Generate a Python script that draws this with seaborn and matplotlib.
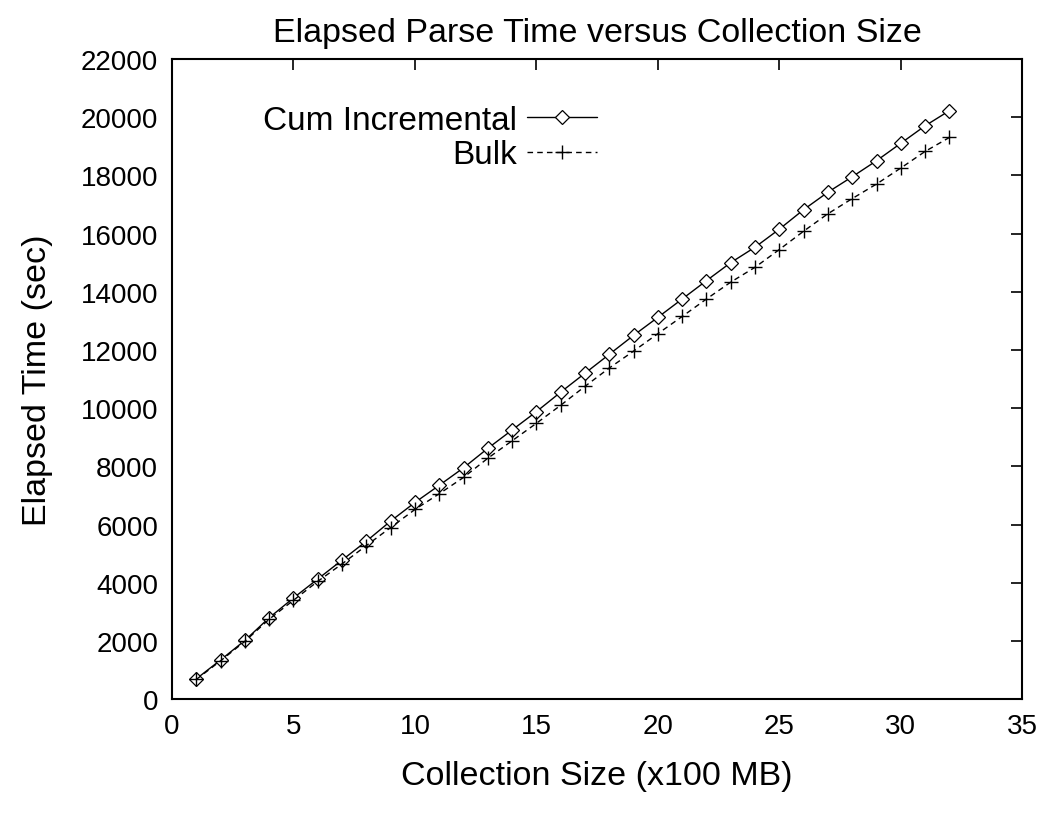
import matplotlib
matplotlib.use('Agg')
import matplotlib.pyplot as plt
import pandas as pd
import seaborn as sns

# collection size in units of 100 MB
sizes = list(range(1, 33))

cum_incremental = [700, 1350, 2020, 2800, 3480, 4130, 4780, 5430, 6120, 6760,
                   7350, 7950, 8620, 9250, 9880, 10550, 11200, 11850, 12500, 13120,
                   13750, 14380, 15000, 15530, 16150, 16820, 17420, 17950, 18500, 19100,
                   19700, 20220]

bulk = [680, 1320, 1990, 2750, 3400, 4050, 4650, 5280, 5900, 6520,
        7060, 7620, 8280, 8880, 9480, 10100, 10750, 11380, 11960, 12560,
        13150, 13750, 14330, 14840, 15450, 16080, 16680, 17200, 17700, 18250,
        18820, 19300]

y_ticks = list(range(0, 22001, 2000))
x_ticks = list(range(0, 36, 5))

sns.set_style('white')
plt.rcParams['font.family'] = ['Liberation Sans', 'DejaVu Sans']
plt.rcParams['text.color'] = 'black'
plt.rcParams['axes.labelcolor'] = 'black'
plt.rcParams['xtick.color'] = 'black'
plt.rcParams['ytick.color'] = 'black'

df_inc = pd.DataFrame({'size': sizes, 'time': cum_incremental})
df_bulk = pd.DataFrame({'size': sizes, 'time': bulk})

fig = plt.figure(figsize=(10.55, 8.2), dpi=100)
ax = fig.add_axes([0.163, 0.146, 0.806, 0.781])

sns.lineplot(data=df_inc, x='size', y='time', ax=ax, color='black', lw=1,
             marker='D', markersize=7, mfc='white', mec='black', mew=0.9,
             label='Cum Incremental')
sns.lineplot(data=df_bulk, x='size', y='time', ax=ax, color='black', lw=1,
             marker='+', markersize=10, mec='black', mew=1.0, label='Bulk')
ax.lines[1].set_dashes([4, 3])
ax.lines[0].set_markerfacecolor('white')

ax.set_xlim(0, 35)
ax.set_ylim(0, 22000)
ax.set_xticks(x_ticks)
ax.set_yticks(y_ticks)
ax.tick_params(direction='in', length=8, width=1.2, top=True, right=True,
               labelsize=20, pad=10)
for s in ax.spines.values():
    s.set_linewidth(1.5)
    s.set_color('black')

ax.set_title('Elapsed Parse Time versus Collection Size', fontsize=24.5, pad=13)
ax.set_xlabel('Collection Size (x100 MB)', fontsize=24.5, labelpad=15)
ax.set_ylabel('Elapsed Time (sec)', fontsize=24.5, labelpad=20)

leg = ax.legend(loc='upper left', bbox_to_anchor=(0.072, 0.975), frameon=False,
                markerfirst=False, fontsize=24, handlelength=2.1,
                labelspacing=0.1, handletextpad=0.3)
for t in leg.get_texts():
    t.set_ha('right')
leg._legend_box.align = 'right'
for h in leg.legend_handles:
    h.set_color('black')
    h.set_markeredgecolor('black')
leg.legend_handles[0].set_markerfacecolor('white')
leg.legend_handles[1].set_dashes([4, 3])

fig.savefig('out.png', dpi=100)
